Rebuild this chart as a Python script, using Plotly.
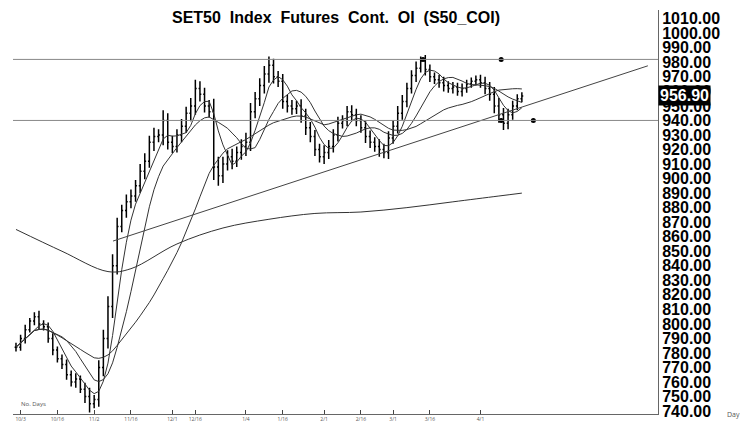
import plotly.graph_objects as go
import pandas as pd

closes = [784,790,796,802,805,800,798,790,782,776,772,
          765,760,762,755,750,745,748,
          770,790,812,840,867,
          878,884,888,895,905,912,925,929,
          930,940,925,922,930,936,
          945,950,962,958,950,946,908,
          902,910,915,912,918,922,925,
          946,955,964,972,978,970,967,
          953,950,948,950,943,935,929,
          920,915,918,922,930,938,940,946,
          944,940,935,929,925,922,920,918,
          928,936,945,953,962,971,976,981,
          975,970,968,966,964,962,963,
          960,962,965,967,968,966,962,958,
          950,944,938,944,950,955,956.9]
spread = [6,5,7,4,6,8,5,6,7,5,6, 7,6,8,5,9,12,6, 10,12,14,16,12,
          8,10,9,8,10,11,9,12, 8,14,10,9,8,10, 9,11,12,10,9,8,18,
          14,10,9,11,8,10,13, 12,9,10,11,12,9,8, 10,9,8,7,9,10,8,
          9,8,10,9,8,9,7,8, 9,8,7,9,8,7,10,8, 9,8,10,9,8,7,9,6,
          8,7,6,7,8,6,7, 6,7,6,5,6,7,8,9, 10,11,9,8,7,6,5]
long_idx = [0,10,20,25,35,45,55,65,75,85,95,105,110]
long_val = [865,850,836,838,855,866,872,876,877,880,884,888,890]
trend_x = [21.1,137.4]
trend_y = [857,977.6]
hlines = [982,940]
dot_x = [88.5,105.5,112.5,105.5]
dot_y = [982,982,940,940]
tick_pos = [1,9,17,25,34,39,50,58,67,75,82,90,101]
tick_lab = ["10/3","10/16","11/2","11/16","12/1","12/16","1/4","1/16","2/1","2/16","3/1","3/16","4/1"]

n = len(closes)
idx = list(range(n))
opens = [closes[0]] + closes[:-1]
highs = [max(o, c) + s/2 for o, c, s in zip(opens, closes, spread)]
lows = [min(o, c) - s/2 for o, c, s in zip(opens, closes, spread)]
s = pd.Series(closes)

fig = go.Figure()
fig.add_trace(go.Ohlc(x=idx, open=opens, high=highs, low=lows, close=closes,
                      increasing_line_color="black", decreasing_line_color="black",
                      line_width=1.5, tickwidth=0.3, showlegend=False))
for w in [5, 10, 25]:
    fig.add_trace(go.Scatter(x=idx, y=s.rolling(w, min_periods=1).mean(), mode="lines",
                             line=dict(color="#333", width=1), showlegend=False))
fig.add_trace(go.Scatter(x=long_idx, y=long_val, mode="lines", line=dict(color="#333", width=1, shape="spline"), showlegend=False))
fig.add_trace(go.Scatter(x=trend_x, y=trend_y, mode="lines", line=dict(color="#444", width=1), showlegend=False))
fig.add_trace(go.Scatter(x=dot_x, y=dot_y, mode="markers", marker=dict(color="black", size=5), showlegend=False))
for h in hlines:
    fig.add_hline(y=h, line=dict(color="#888", width=1))

fig.add_annotation(text="<b>SET50  Index  Futures  Cont.  OI  (S50_COI)</b>", xref="paper", yref="paper",
                   x=0.5, y=1.0, yanchor="top", yshift=3, showarrow=False, font=dict(size=16, color="black", family="Liberation Sans"))
fig.add_annotation(text="<b>956.90</b>", xref="paper", yref="y", x=1.0, y=956.9, xanchor="left",
                   showarrow=False, bgcolor="black", font=dict(size=16, color="white", family="Liberation Sans"))
fig.add_annotation(text="Day", xref="paper", yref="paper", x=1.13, y=0.0, yanchor="middle",
                   showarrow=False, font=dict(size=7, color="#555"))
fig.add_annotation(text="No. Days", xref="paper", yref="paper", x=0.01, y=0.01, xanchor="left", yanchor="bottom",
                   showarrow=False, font=dict(size=6, color="#555"))

fig.update_layout(width=750, height=422, margin=dict(l=5, r=100, t=2, b=16),
                  plot_bgcolor="white", paper_bgcolor="white",
                  xaxis=dict(range=[-0.65, 139.6], rangeslider_visible=False, tickvals=tick_pos, ticktext=tick_lab,
                             tickfont=dict(size=5, color="#555"), showgrid=False, showline=True, linecolor="#666",
                             ticks="inside", ticklen=4),
                  yaxis=dict(side="right", range=[738, 1016], dtick=10, tick0=740, tickformat=".2f",
                             tickfont=dict(size=16, color="black", family="Liberation Sans"), showgrid=False,
                             showline=True, linecolor="#666", ticks=""),
                  )
fig.update_yaxes(tickprefix="<b>", ticksuffix="</b>")
fig.write_html("out.html")
